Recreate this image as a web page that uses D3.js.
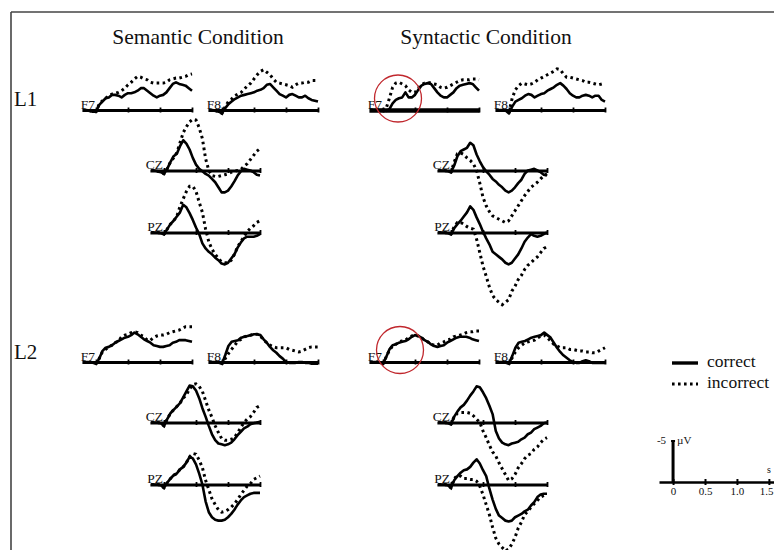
<!DOCTYPE html>
<html>
<head>
<meta charset="utf-8">
<script src="https://cdn.jsdelivr.net/npm/d3@7"></script>
<style>
  body { margin: 0; background: #fff; }
  svg { display: block; }
  text { font-family: "Liberation Serif", "Times New Roman", serif; fill: #111; }
</style>
</head>
<body>
<svg id="chart" width="774" height="550"></svg>
<script>
// Grand-average ERP waveforms (µV, negative plotted upward), time in seconds
const times = [-0.2,-0.15,-0.1,-0.05,0,0.05,0.1,0.15,0.2,0.25,0.3,0.35,0.4,0.45,0.5,0.55,0.6,0.65,0.7,0.75,
               0.8,0.85,0.9,0.95,1.0,1.05,1.1,1.15,1.2,1.25,1.3,1.35,1.4,1.45,1.5];

const conditions = ["Semantic Condition", "Syntactic Condition"];
const groups = ["L1", "L2"];
const electrodes = ["F7", "F8", "CZ", "PZ"];
const seriesNames = ["correct", "incorrect"];
const scaleTicks = [0, 0.5, 1.0, 1.5];
const scaleTickLabels = ["0", "0.5", "1.0", "1.5"];
const scaleAmplitude = -5;

// Semantic condition, L1
const semL1F7Correct   = [0,0,0.1,0.2,0.2,-0.6,-1.0,-1.4,-1.5,-1.8,-1.8,-1.7,-1.5,-1.8,-2.0,-2.0,-2.1,-2.3,-2.6,-2.6,-2.3,-2.0,-1.7,-1.5,-1.7,-1.8,-2.1,-2.6,-3.1,-3.3,-3.1,-3.0,-2.9,-2.6,-2.3];
const semL1F7Incorrect = [0,0,0.1,0.2,0.2,-0.7,-1.1,-1.4,-1.7,-1.9,-2.0,-2.1,-2.3,-2.6,-3.0,-3.3,-3.7,-4.0,-3.9,-3.7,-3.6,-3.3,-3.2,-3.2,-3.2,-3.2,-3.3,-3.6,-3.7,-3.8,-3.8,-3.9,-4.0,-4.2,-4.3];
const semL1F8Correct   = [0,0,0.1,0.2,0.4,-0.2,-0.7,-1.0,-1.3,-1.5,-1.7,-1.8,-1.9,-2.0,-2.1,-2.3,-2.4,-2.6,-3.0,-3.1,-2.7,-2.3,-1.9,-1.7,-1.5,-1.8,-1.9,-1.7,-1.5,-1.5,-1.7,-1.4,-1.2,-1.1,-1.0];
const semL1F8Incorrect = [0,0,0.1,0.2,0.4,-0.4,-1.0,-1.3,-1.7,-1.9,-2.1,-2.5,-2.9,-3.2,-3.7,-4.2,-4.6,-4.8,-4.5,-4.2,-3.7,-3.3,-3.2,-3.1,-3.0,-2.9,-2.7,-3.0,-3.2,-3.2,-3.3,-3.3,-3.5,-3.5,-3.5];
const semL1CZCorrect   = [0,0,0.1,0.2,0.4,-0.2,-1.0,-1.7,-2.0,-2.9,-3.6,-3.2,-2.5,-1.5,-0.7,-0.2,0.1,0.4,0.6,1.0,1.4,2.0,2.6,2.6,2.4,1.9,1.3,0.6,0.1,-0.2,-0.1,0,0.2,0.5,0.6];
const semL1CZIncorrect = [0,0,0.1,0.2,0.4,-0.2,-1.0,-1.5,-2.1,-3.3,-4.5,-5.2,-5.8,-6.1,-6.0,-5.1,-3.8,-1.4,0,0.6,0.7,0.7,0.6,0.5,0.4,0.2,0.1,0,-0.1,-0.5,-0.8,-1.3,-1.8,-2.3,-2.6];
const semL1PZCorrect   = [0,0,0,0.1,0.2,-0.4,-1.0,-1.4,-1.9,-2.4,-3.3,-3.0,-2.3,-1.5,-0.6,0.2,1.3,1.9,2.3,2.6,3.0,3.3,3.7,3.8,3.6,3.1,2.6,1.8,1.2,0.7,0.5,0.5,0.5,0.4,0.2];
const semL1PZIncorrect = [0,0,0,0.1,0.2,-0.4,-1.0,-1.4,-1.9,-3.1,-4.0,-4.9,-5.5,-5.5,-4.9,-3.6,-2.4,-0.4,1.1,2.0,2.6,3.1,3.5,3.6,3.6,3.3,2.6,1.7,1.1,0.5,-0.1,-0.5,-0.8,-1.2,-1.4];

// Syntactic condition, L1
const synL1F7Correct   = [0,0,0,0,0,0.1,-0.1,-0.8,-1.2,-1.4,-1.5,-2.1,-1.5,-1.5,-1.8,-2.4,-2.9,-3.1,-3.2,-3.1,-2.6,-2.1,-1.7,-1.5,-1.5,-1.8,-2.1,-2.6,-2.9,-3.0,-3.1,-3.2,-3.1,-2.7,-2.3];
const synL1F7Incorrect = [0,0,0,0,0,-0.2,-1.4,-2.7,-3.2,-3.3,-3.1,-2.9,-2.4,-2.1,-2.1,-2.6,-3.0,-3.2,-3.3,-3.2,-3.1,-3.0,-2.7,-2.6,-2.7,-2.9,-3.1,-3.3,-3.5,-3.6,-3.6,-3.6,-3.7,-3.7,-3.6];
const synL1F8Correct   = [0,0,0,0.1,0.4,-0.4,-1.0,-1.2,-1.4,-1.7,-1.9,-1.8,-1.5,-1.7,-1.9,-2.0,-2.3,-2.5,-2.7,-3.0,-3.2,-2.9,-2.5,-2.0,-1.7,-1.5,-1.5,-1.7,-1.8,-1.7,-1.5,-1.7,-1.7,-1.2,-1.0];
const synL1F8Incorrect = [0,0,0,0.1,0.2,-1.4,-2.4,-2.9,-3.2,-3.1,-3.0,-3.1,-3.3,-3.6,-3.8,-4.0,-4.2,-4.4,-4.6,-4.9,-4.8,-4.3,-3.9,-3.9,-3.8,-3.7,-3.6,-3.5,-3.3,-3.3,-3.2,-3.1,-3.0,-3.1,-3.2];
const synL1CZCorrect   = [0,0,0,0.1,0.2,-0.6,-1.7,-2.3,-2.5,-2.7,-3.3,-3.0,-1.9,-1.1,-0.4,0.1,0.5,1.0,1.3,1.7,2.0,2.4,2.6,2.4,2.0,1.5,1.1,0.4,0,-0.1,-0.2,0,0.2,0.5,0.6];
const synL1CZIncorrect = [0,0,0,0.1,0.2,-1.0,-2.0,-2.1,-1.9,-1.5,-1.2,-0.8,0,1.5,3.2,4.2,4.9,5.4,5.6,5.8,6.0,6.2,6.0,5.4,4.8,4.2,3.6,3.0,2.5,2.0,1.7,1.4,1.0,0.6,0.4];
const synL1PZCorrect   = [0,0,0,0.1,0.2,-0.5,-1.0,-1.4,-1.9,-2.4,-3.1,-2.7,-1.8,-1.0,-0.1,0.7,1.4,2.3,2.6,2.9,3.2,3.6,3.8,3.6,3.1,2.6,1.9,1.1,0.6,0.2,0.4,0.5,0.4,0.2,0];
const synL1PZIncorrect = [0,0,0,0.1,0.2,-0.7,-1.2,-1.2,-1.0,-0.7,-0.5,-0.4,0.8,2.4,4.0,5.2,6.5,7.5,8.0,8.3,8.6,8.3,8.0,7.0,6.4,5.6,5.1,4.4,3.9,3.6,3.2,2.9,2.4,1.9,1.7];

// Semantic condition, L2
const semL2F7Correct   = [0,0,0,0.1,0.2,-0.4,-1.3,-1.7,-1.8,-2.0,-2.3,-2.5,-2.7,-2.9,-3.0,-3.2,-3.5,-3.3,-3.0,-2.7,-2.5,-2.3,-2.0,-1.9,-1.8,-1.8,-1.9,-2.0,-2.3,-2.4,-2.6,-2.6,-2.6,-2.5,-2.4];
const semL2F7Incorrect = [0,0,0,0.1,0.2,-0.4,-1.2,-1.5,-1.8,-2.0,-2.3,-2.5,-3.0,-3.2,-3.3,-3.5,-3.6,-3.5,-3.2,-3.0,-2.6,-2.6,-2.9,-3.1,-3.2,-3.2,-3.3,-3.5,-3.6,-3.7,-3.8,-4.0,-4.2,-4.2,-4.2];
const semL2F8Correct   = [0,0,0,0.1,0.2,-0.8,-1.9,-2.4,-2.5,-2.6,-2.9,-3.0,-3.1,-3.2,-3.3,-3.3,-3.2,-2.7,-2.3,-1.8,-1.4,-1.1,-0.7,-0.4,0,0.1,0.1,0.1,0,0,0.1,0.1,0.2,0.2,0.2];
const semL2F8Incorrect = [0,0,0,0.1,0.2,-0.4,-1.0,-1.5,-2.0,-2.5,-2.7,-3.0,-3.1,-3.2,-3.3,-3.3,-3.1,-2.6,-2.3,-2.0,-1.8,-1.7,-1.7,-1.7,-1.7,-1.5,-1.4,-1.3,-1.2,-1.3,-1.5,-1.7,-1.8,-1.8,-1.8];
const semL2CZCorrect   = [0,0,0,0.1,0.4,-0.4,-1.1,-1.5,-1.9,-2.3,-3.0,-3.7,-4.4,-4.3,-3.8,-2.9,-1.7,-0.7,0.4,1.4,2.1,2.5,2.6,2.7,2.6,2.4,2.0,1.5,1.1,0.7,0.5,0.2,0.1,0,-0.1];
const semL2CZIncorrect = [0,0,0,0.1,0.4,-0.4,-1.1,-1.5,-1.9,-2.3,-2.9,-3.3,-4.0,-4.5,-4.6,-4.3,-3.7,-2.6,-1.5,-0.6,0.4,1.2,1.9,2.1,2.1,2.0,1.8,1.2,0.6,0,-0.4,-0.7,-1.2,-1.8,-2.0];
const semL2PZCorrect   = [0,0,0,0.1,0.4,-0.2,-0.7,-1.1,-1.3,-1.8,-2.1,-2.6,-3.3,-3.1,-2.4,-1.3,0,2.0,3.3,3.9,4.2,4.3,4.3,4.2,3.9,3.5,3.0,2.4,1.9,1.5,1.3,1.1,1.0,1.0,1.0];
const semL2PZIncorrect = [0,0,0,0.1,0.4,-0.2,-0.7,-1.1,-1.3,-1.8,-2.1,-2.6,-3.3,-3.7,-3.6,-2.9,-2.0,-0.5,0.6,1.7,2.4,3.0,3.3,3.2,3.0,2.7,2.3,1.8,1.2,0.7,0.2,-0.1,-0.6,-0.8,-1.0];

// Syntactic condition, L2
const synL2F7Correct   = [0,0,0,0.1,0.2,-0.6,-1.5,-2.0,-2.1,-2.3,-2.4,-2.5,-2.7,-3.0,-3.2,-3.1,-2.9,-2.6,-2.4,-2.1,-1.9,-1.8,-1.9,-2.0,-2.3,-2.5,-2.7,-2.9,-3.0,-3.0,-3.0,-2.9,-2.7,-2.6,-2.5];
const synL2F7Incorrect = [0,0,0,0.1,0.2,-0.6,-1.4,-1.9,-2.1,-2.4,-2.5,-2.6,-2.9,-3.1,-3.2,-3.1,-2.9,-2.6,-2.4,-2.1,-2.0,-2.0,-2.3,-2.4,-2.6,-2.7,-3.0,-3.1,-3.2,-3.3,-3.5,-3.6,-3.6,-3.7,-3.7];
const synL2F8Correct   = [0,0,0,0.1,0.2,-0.7,-1.7,-2.3,-2.4,-2.5,-2.7,-2.9,-3.0,-3.1,-3.2,-3.5,-3.2,-2.9,-2.3,-1.7,-1.2,-0.8,-0.5,-0.2,0,0.1,0.1,-0.1,-0.2,-0.1,0.1,0.1,0.1,0.1,0.1];
const synL2F8Incorrect = [0,0,0,0.1,0.2,-0.5,-1.2,-1.7,-2.0,-2.3,-2.4,-2.5,-2.6,-2.9,-3.1,-3.2,-2.9,-2.5,-2.1,-1.9,-1.7,-1.7,-1.7,-1.5,-1.5,-1.4,-1.3,-1.3,-1.2,-1.2,-1.1,-1.1,-1.3,-1.5,-1.7];
const synL2CZCorrect   = [0,0,0,0.1,0.2,-0.7,-1.3,-1.8,-2.1,-2.6,-3.2,-3.7,-4.3,-4.2,-3.6,-2.9,-2.0,-1.0,1.0,1.9,2.4,2.6,2.7,2.5,2.4,2.3,2.0,1.8,1.4,1.2,0.8,0.6,0.4,0.1,0];
const synL2CZIncorrect = [0,0,0,0.1,0.2,-0.7,-1.1,-1.2,-1.2,-1.2,-1.1,-0.8,-0.4,0,1.0,1.8,2.7,3.5,4.0,4.8,5.5,6.2,6.9,6.7,6.2,5.4,4.9,4.3,3.9,3.7,3.2,2.9,2.4,2.0,1.8];
const synL2PZCorrect   = [0,0,0,0.1,0.4,-0.5,-1.0,-1.4,-1.7,-1.8,-2.1,-2.6,-3.0,-2.5,-1.7,-1.0,0.5,1.8,2.9,3.7,4.0,4.3,4.4,4.3,3.9,3.7,3.5,3.2,3.0,2.5,2.1,1.5,1.2,1.1,1.1];
const synL2PZIncorrect = [0,0,0,0.1,0.4,-0.7,-1.1,-1.0,-0.7,-0.7,-0.6,-0.6,-0.4,0.2,1.2,2.4,3.6,5.1,6.4,7.1,7.5,7.9,7.7,7.1,6.3,5.2,4.5,3.6,3.2,2.7,2.3,1.9,1.5,1.3,1.2];

// Lookup: condition -> group -> electrode -> [correct, incorrect]
const waves = {
  "Semantic Condition": {
    L1: { F7: [semL1F7Correct, semL1F7Incorrect], F8: [semL1F8Correct, semL1F8Incorrect],
          CZ: [semL1CZCorrect, semL1CZIncorrect], PZ: [semL1PZCorrect, semL1PZIncorrect] },
    L2: { F7: [semL2F7Correct, semL2F7Incorrect], F8: [semL2F8Correct, semL2F8Incorrect],
          CZ: [semL2CZCorrect, semL2CZIncorrect], PZ: [semL2PZCorrect, semL2PZIncorrect] }
  },
  "Syntactic Condition": {
    L1: { F7: [synL1F7Correct, synL1F7Incorrect], F8: [synL1F8Correct, synL1F8Incorrect],
          CZ: [synL1CZCorrect, synL1CZIncorrect], PZ: [synL1PZCorrect, synL1PZIncorrect] },
    L2: { F7: [synL2F7Correct, synL2F7Incorrect], F8: [synL2F8Correct, synL2F8Incorrect],
          CZ: [synL2CZCorrect, synL2CZIncorrect], PZ: [synL2PZCorrect, synL2PZIncorrect] }
  }
};

// ---- layout ----
const svg = d3.select("#chart");
const condOriginX = [96, 383];        // x of stimulus onset for the F7 panel of each condition
const groupBaseY = [110, 362];        // baseline of frontal panels for each group
const electrodeOffset = { F7: [0, 0], F8: [126, 0], CZ: [68, 60.5], PZ: [68, 122.5] };

// shared scales inside each panel (origin at onset / 0 µV)
const x = d3.scaleLinear().domain([-0.22, 1.5]).range([-14.08, 96]);
const y = d3.scaleLinear().domain([-5, 5]).range([-42, 42]);   // negative up

const line = d3.line()
  .x((d, i) => x(times[i]))
  .y(d => y(d))
  .curve(d3.curveLinear);

// frame
svg.append("line").attr("x1", 11).attr("x2", 774).attr("y1", 12).attr("y2", 12)
  .attr("stroke", "#444").attr("stroke-width", 1.6);
svg.append("line").attr("x1", 11).attr("x2", 11).attr("y1", 12).attr("y2", 550)
  .attr("stroke", "#444").attr("stroke-width", 1.6);

// condition titles
const titleCenters = [198, 486];
conditions.forEach((c, ci) => {
  svg.append("text").attr("x", titleCenters[ci]).attr("y", 44)
    .attr("text-anchor", "middle").attr("font-size", 21.5).text(c);
});

// group labels
const groupLabelY = [106, 359];
groups.forEach((g, gi) => {
  svg.append("text").attr("x", 14).attr("y", groupLabelY[gi])
    .attr("font-size", 21).text(g);
});

function drawBaseline(g, xs, width) {
  const axis = d3.axisBottom(xs).tickValues(scaleTicks).tickSizeInner(3).tickSizeOuter(0).tickFormat("");
  const ax = g.append("g").call(axis);
  ax.select(".domain").attr("stroke", "#000").attr("stroke-width", width);
  ax.selectAll(".tick line").attr("y1", -2.5).attr("y2", 2.5).attr("stroke", "#000").attr("stroke-width", 1.8);
  return ax;
}

conditions.forEach((cond, ci) => {
  groups.forEach((grp, gi) => {
    electrodes.forEach(el => {
      const ox = condOriginX[ci] + electrodeOffset[el][0];
      const oy = groupBaseY[gi] + electrodeOffset[el][1];
      const g = svg.append("g").attr("transform", `translate(${ox},${oy})`);

      // the syntactic L1 F7 baseline is printed heavier
      const heavy = ci === 1 && gi === 0 && el === "F7";
      drawBaseline(g, x, heavy ? 4.5 : 3);

      g.append("text").attr("x", -1).attr("y", -1.5)
        .attr("text-anchor", "end").attr("font-size", 13.5).text(el);

      const [corr, incorr] = waves[cond][grp][el];
      g.append("path").datum(incorr).attr("d", line)
        .attr("fill", "none").attr("stroke", "#000").attr("stroke-width", 3)
        .attr("stroke-dasharray", "2.6 3.4");
      g.append("path").datum(corr).attr("d", line)
        .attr("fill", "none").attr("stroke", "#000").attr("stroke-width", 2.6)
        .attr("stroke-linejoin", "round");
    });
  });
});

// highlighted onset regions
const highlights = [[398, 98.5], [400, 350]];
svg.selectAll("circle.hl").data(highlights).join("circle")
  .attr("class", "hl").attr("cx", d => d[0]).attr("cy", d => d[1]).attr("r", 23.5)
  .attr("fill", "none").attr("stroke", "#c0272d").attr("stroke-width", 1.3);

// legend
const legend = svg.append("g").attr("transform", "translate(672,0)");
seriesNames.forEach((name, i) => {
  const ly = 363 + i * 21;
  legend.append("line").attr("x1", 0).attr("x2", 26).attr("y1", ly).attr("y2", ly)
    .attr("stroke", "#000").attr("stroke-width", i === 0 ? 3.4 : 3)
    .attr("stroke-dasharray", i === 0 ? null : "2.6 3.4");
  legend.append("text").attr("x", 35).attr("y", ly + 3.5)
    .attr("font-size", 17.5).text(name);
});

// calibration bar
const sx = d3.scaleLinear().domain([-0.22, 1.58]).range([659, 774]);
const sg = svg.append("g").attr("transform", "translate(0,482)");
const saxis = d3.axisBottom(sx).tickValues(scaleTicks).tickSizeInner(3).tickSizeOuter(0)
  .tickFormat((d, i) => scaleTickLabels[i]);
sg.call(saxis);
sg.select(".domain").attr("stroke", "#000").attr("stroke-width", 2.4);
sg.selectAll(".tick line").attr("y1", -3).attr("y2", 3).attr("stroke", "#000").attr("stroke-width", 2);
sg.selectAll(".tick text").attr("y", 5).attr("dy", "0.71em")
  .attr("font-family", "Liberation Serif, Times New Roman, serif").attr("font-size", 11).attr("fill", "#111");
// keep the last tick label inside the page edge
sg.selectAll(".tick text").filter((d, i) => i === scaleTicks.length - 1)
  .attr("text-anchor", "end").attr("x", 773 - sx(1.5));

const syScale = d3.scaleLinear().domain([-5, 0]).range([441, 482]);
svg.append("line").attr("x1", sx(0)).attr("x2", sx(0)).attr("y1", syScale(0)).attr("y2", syScale(scaleAmplitude))
  .attr("stroke", "#000").attr("stroke-width", 3);
svg.append("line").attr("x1", sx(0) - 2).attr("x2", sx(0) + 2).attr("y1", syScale(scaleAmplitude)).attr("y2", syScale(scaleAmplitude))
  .attr("stroke", "#000").attr("stroke-width", 2);
svg.append("text").attr("x", sx(0) - 7).attr("y", 444).attr("text-anchor", "end")
  .attr("font-size", 11).text(String(scaleAmplitude));
svg.append("text").attr("x", sx(0) + 4).attr("y", 444).attr("font-size", 11).text("µV");
svg.append("text").attr("x", 767).attr("y", 473).attr("font-size", 10).text("s");
</script>
</body>
</html>
